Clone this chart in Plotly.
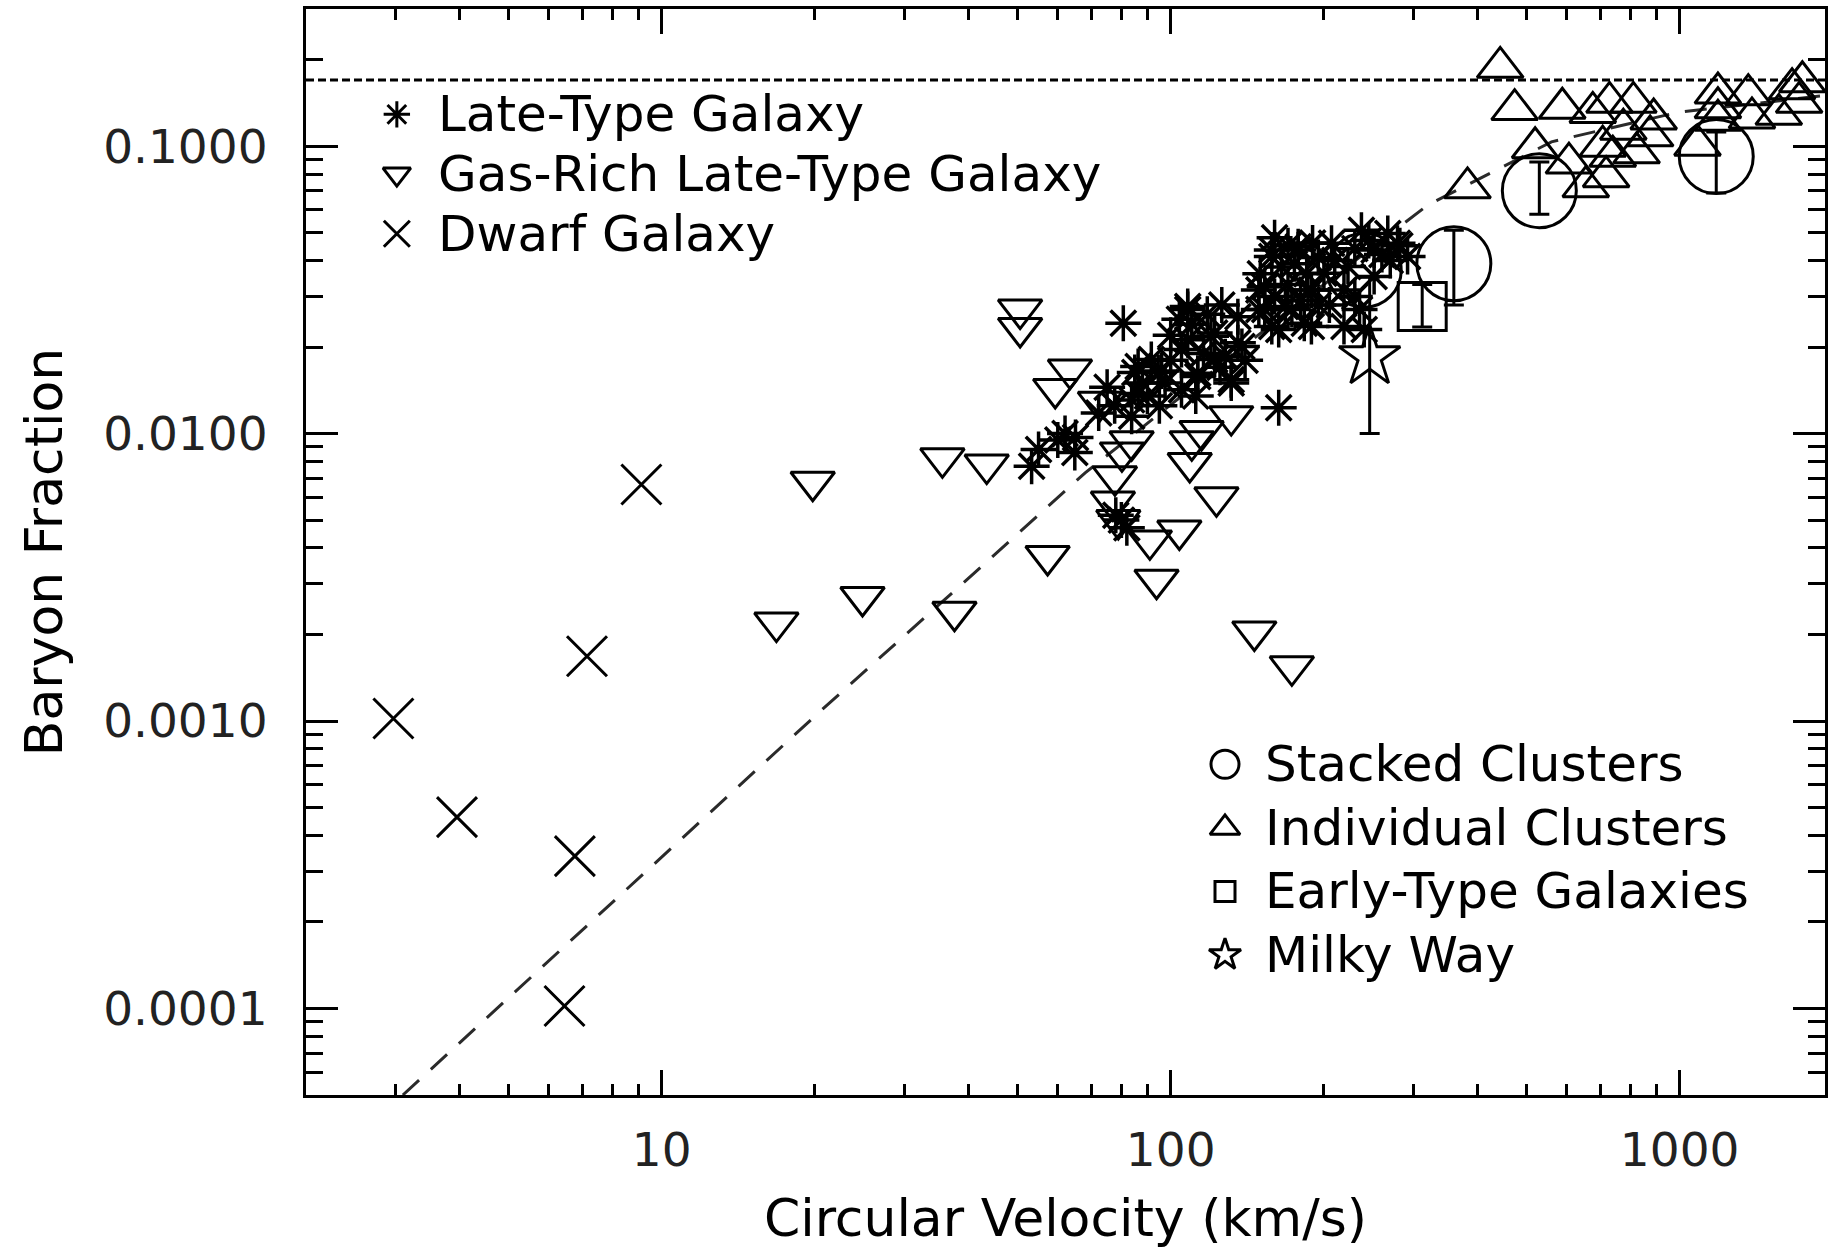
import numpy as np
import plotly.graph_objects as go

# ---------------------------------------------------------------- data
# Late-type galaxies
late_v = [53.3, 55, 62, 64.8, 72.2, 65, 60, 80.7, 163, 78, 82, 80, 83.8, 83.8, 85, 94.5, 91.6,
          86.3, 97.5, 77.6, 86.3, 75, 90, 95, 88, 96,
          105, 105, 108, 108, 108, 113, 113, 120, 122, 122, 128, 131.5, 131.5, 135.5, 135.5, 138,
          100, 104, 110, 116, 118, 125, 126, 140, 100, 112,
          149, 149, 153, 153, 158, 158, 158, 163, 168, 173, 178, 178, 183, 186, 189, 189,
          150, 160, 165, 170, 175, 180, 185, 195, 160, 190, 170, 195,
          200, 207, 219, 219, 223, 237, 240, 251, 251, 267, 279, 292,
          210, 230, 245, 260, 270, 230, 205, 235, 282]
late_f = [0.0077, 0.0088, 0.0100, 0.0086, 0.0118, 0.0097, 0.0095, 0.0242, 0.0123, 0.0052, 0.0047,
          0.0050, 0.0131, 0.0115, 0.0163, 0.0163, 0.0181, 0.0171, 0.0150, 0.0125, 0.0138, 0.0145,
          0.0135, 0.0125, 0.0150, 0.0165,
          0.0142, 0.0196, 0.0270, 0.0212, 0.0277, 0.0162, 0.0158, 0.0218, 0.0224, 0.0181, 0.0185,
          0.0154, 0.0150, 0.0207, 0.0255, 0.0201,
          0.0220, 0.0250, 0.0240, 0.0190, 0.0260, 0.0170, 0.0280, 0.0180, 0.0180, 0.0135,
          0.0270, 0.0316, 0.0324, 0.0270, 0.0435, 0.0236, 0.0413, 0.0230, 0.0277, 0.0270, 0.0435,
          0.0447, 0.0242, 0.0316, 0.0236, 0.0316,
          0.0360, 0.0300, 0.0380, 0.0330, 0.0390, 0.0290, 0.0360, 0.0410, 0.0480, 0.0460, 0.0450,
          0.0280,
          0.0361, 0.0459, 0.0316, 0.0236, 0.0381, 0.0510, 0.0230, 0.0435, 0.0352, 0.0497, 0.0459,
          0.0413,
          0.0400, 0.0440, 0.0470, 0.0420, 0.0400, 0.0300, 0.0280, 0.0270, 0.0450]

# Gas-rich late-type galaxies
gas_v = [19.8, 16.8, 24.8, 35.6, 43.5, 37.6, 50.6, 50.6, 57.3, 63.4, 59.3, 72.6, 83.8, 80.2,
         77.7, 77.0, 78.9, 91.0, 104, 93.8, 123, 110, 109, 115, 131.5, 146, 173]
gas_f = [0.0068, 0.0022, 0.0027, 0.0082, 0.0078, 0.0024, 0.0270, 0.0233, 0.00375, 0.0167,
         0.0143, 0.0129, 0.0094, 0.0086, 0.0071, 0.0058, 0.0050, 0.00425, 0.0046, 0.0031,
         0.0060, 0.0094, 0.0079, 0.0102, 0.0115, 0.00205, 0.00155]

# Dwarf galaxies
dwarf_v = [9.12, 7.13, 2.97, 3.96, 6.75, 6.44]
dwarf_f = [0.00665, 0.00168, 0.00102, 0.000463, 0.000339, 0.000102]

# Stacked clusters, with error range
stack_v = [360, 530, 1180]
stack_f = [0.039, 0.070, 0.092]
stack_lo = [0.028, 0.058, 0.0687]
stack_hi = [0.051, 0.088, 0.112]
stack_extra_v = [240]
stack_extra_f = [0.037]

# Individual clusters
indiv_v = [444, 474, 588, 520, 383, 675, 811, 775, 706, 875, 606, 654, 717, 823, 889, 728, 739,
           1189, 1364, 1742, 1566, 1387, 1717, 1663, 1189, 1189, 1084]
indiv_f = [0.188, 0.134, 0.1355, 0.0987, 0.0716, 0.131, 0.142, 0.1146, 0.100, 0.1086, 0.0873,
           0.0723, 0.0783, 0.0948, 0.1243, 0.142, 0.0923, 0.153, 0.151, 0.1675, 0.129, 0.1254,
           0.142, 0.1585, 0.136, 0.123, 0.1008]

# Early-type galaxies
early_v = [312]
early_f = [0.0277]
early_lo = [0.0235]
early_hi = [0.033]

# Milky Way
mw_v = [246]
mw_f = [0.0185]
mw_lo = [0.010]
mw_hi = [0.035]

# Model curve (dashed)
model_v = [3.1, 13.7, 20.7, 43.9, 67.9, 158, 320, 560, 990, 1930]
model_f = [5.0e-5, 5.65e-4, 1.10e-3, 3.63e-3, 7.3e-3, 0.024, 0.0624, 0.1035, 0.131, 0.150]

# Cosmic baryon fraction
COSMIC_FB = 0.17

X_RANGE = (2.0, 1930.0)
Y_RANGE = (5e-5, 0.3)

x_major = [10, 100, 1000]
x_major_text = ["10", "100", "1000"]
y_major = [1e-4, 1e-3, 1e-2, 1e-1]
y_major_text = ["0.0001", "0.0010", "0.0100", "0.1000"]

# ---------------------------------------------------------------- style
FONT = "DejaVu Sans"
INK = "black"
LW = 3


def err(vals, lo, hi):
    return dict(type="data", symmetric=False,
                array=[h - v for v, h in zip(vals, hi)],
                arrayminus=[v - l for v, l in zip(vals, lo)],
                color=INK, thickness=LW, width=10)


def open_marker(symbol, size, width=LW):
    return dict(symbol=symbol, size=size, color=INK, line=dict(color=INK, width=width))


fig = go.Figure()

# cosmic fraction reference line
fig.add_trace(go.Scatter(x=list(X_RANGE), y=[COSMIC_FB, COSMIC_FB], mode="lines",
                         line=dict(color=INK, width=LW, dash="8px,4px"), hoverinfo="skip"))
# model curve
fig.add_trace(go.Scatter(x=model_v, y=model_f, mode="lines",
                         line=dict(color="#2a2a2a", width=LW, dash="22px,16px"),
                         hoverinfo="skip"))

fig.add_trace(go.Scatter(x=gas_v, y=gas_f, mode="markers", name="Gas-Rich Late-Type Galaxy",
                         marker=open_marker("triangle-down-open", 38)))
fig.add_trace(go.Scatter(x=dwarf_v, y=dwarf_f, mode="markers", name="Dwarf Galaxy",
                         marker=open_marker("x-thin-open", 40, 3)))
fig.add_trace(go.Scatter(x=indiv_v, y=indiv_f, mode="markers", name="Individual Clusters",
                         marker=open_marker("triangle-up-open", 40)))
fig.add_trace(go.Scatter(x=late_v, y=late_f, mode="markers", name="Late-Type Galaxy",
                         marker=open_marker("asterisk-open", 30, 3.5)))
fig.add_trace(go.Scatter(x=stack_v, y=stack_f, mode="markers", name="Stacked Clusters",
                         marker=open_marker("circle-open", 74),
                         error_y=err(stack_f, stack_lo, stack_hi)))
fig.add_trace(go.Scatter(x=stack_extra_v, y=stack_extra_f, mode="markers",
                         name="Stacked Clusters", marker=open_marker("circle-open", 74)))
fig.add_trace(go.Scatter(x=early_v, y=early_f, mode="markers", name="Early-Type Galaxies",
                         marker=open_marker("square-open", 48),
                         error_y=err(early_f, early_lo, early_hi)))
fig.add_trace(go.Scatter(x=mw_v, y=mw_f, mode="markers", name="Milky Way",
                         marker=open_marker("star-open", 46),
                         error_y=err(mw_f, mw_lo, mw_hi)))

# ---------------------------------------------------------------- key boxes
legend_left = [("asterisk-open", 22, "Late-Type Galaxy"),
               ("triangle-down-open", 24, "Gas-Rich Late-Type Galaxy"),
               ("x-thin-open", 26, "Dwarf Galaxy")]
legend_right = [("circle-open", 28, "Stacked Clusters"),
                ("triangle-up-open", 26, "Individual Clusters"),
                ("square-open", 20, "Early-Type Galaxies"),
                ("star-open", 24, "Milky Way")]

annotations = []


def add_key(entries, x_sym, x_text, y_top, row_step):
    for i, (sym, size, label) in enumerate(entries):
        yy = y_top - i * row_step
        fig.add_trace(go.Scatter(x=[x_sym], y=[yy], xaxis="x2", yaxis="y2", mode="markers",
                                 marker=open_marker(sym, size, 3), hoverinfo="skip"))
        annotations.append(dict(x=x_text, y=yy, xref="paper", yref="paper", text=label,
                                showarrow=False, xanchor="left", yanchor="middle",
                                font=dict(family=FONT, size=50, color=INK)))


add_key(legend_left, 0.0598, 0.0854, 0.903, 0.055)
add_key(legend_right, 0.605, 0.630, 0.3045, 0.0585)

# ---------------------------------------------------------------- axes
minor_x = [m * 10 ** e for e in range(0, 4) for m in range(2, 10)]
minor_y = [m * 10.0 ** e for e in range(-5, 0) for m in range(2, 10)]

axis_common = dict(showline=True, linewidth=LW, linecolor=INK, mirror="ticks",
                   ticks="inside", tickwidth=LW, tickcolor=INK, showgrid=False,
                   zeroline=False, tickmode="array",
                   tickfont=dict(family=FONT, size=47, color="#222222"))

fig.update_layout(
    width=1832, height=1248,
    margin=dict(l=306, r=4, t=9, b=152),
    paper_bgcolor="white", plot_bgcolor="white",
    showlegend=False,
    font=dict(family=FONT, color=INK),
    xaxis=dict(type="log", range=[np.log10(X_RANGE[0]), np.log10(X_RANGE[1])],
               tickvals=x_major, ticktext=x_major_text, ticklen=25,
               ticklabelstandoff=12,
               minor=dict(ticks="inside", tickmode="array", tickvals=minor_x, ticklen=11,
                          tickwidth=LW, tickcolor=INK, showgrid=False),
               title=dict(text="Circular Velocity (km/s)", standoff=30,
                          font=dict(family=FONT, size=52, color=INK)),
               **axis_common),
    yaxis=dict(type="log", range=[np.log10(Y_RANGE[0]), np.log10(Y_RANGE[1])],
               tickvals=y_major, ticktext=y_major_text, ticklen=32,
               ticklabelstandoff=26,
               minor=dict(ticks="inside", tickmode="array", tickvals=minor_y, ticklen=17,
                          tickwidth=LW, tickcolor=INK, showgrid=False),
               title=dict(text="Baryon Fraction", standoff=24,
                          font=dict(family=FONT, size=52, color=INK)),
               **axis_common),
    xaxis2=dict(overlaying="x", anchor="y2", range=[0, 1], visible=False, fixedrange=True),
    yaxis2=dict(overlaying="y", anchor="x2", range=[0, 1], visible=False, fixedrange=True),
    annotations=annotations,
)

fig.write_html("out.html")
